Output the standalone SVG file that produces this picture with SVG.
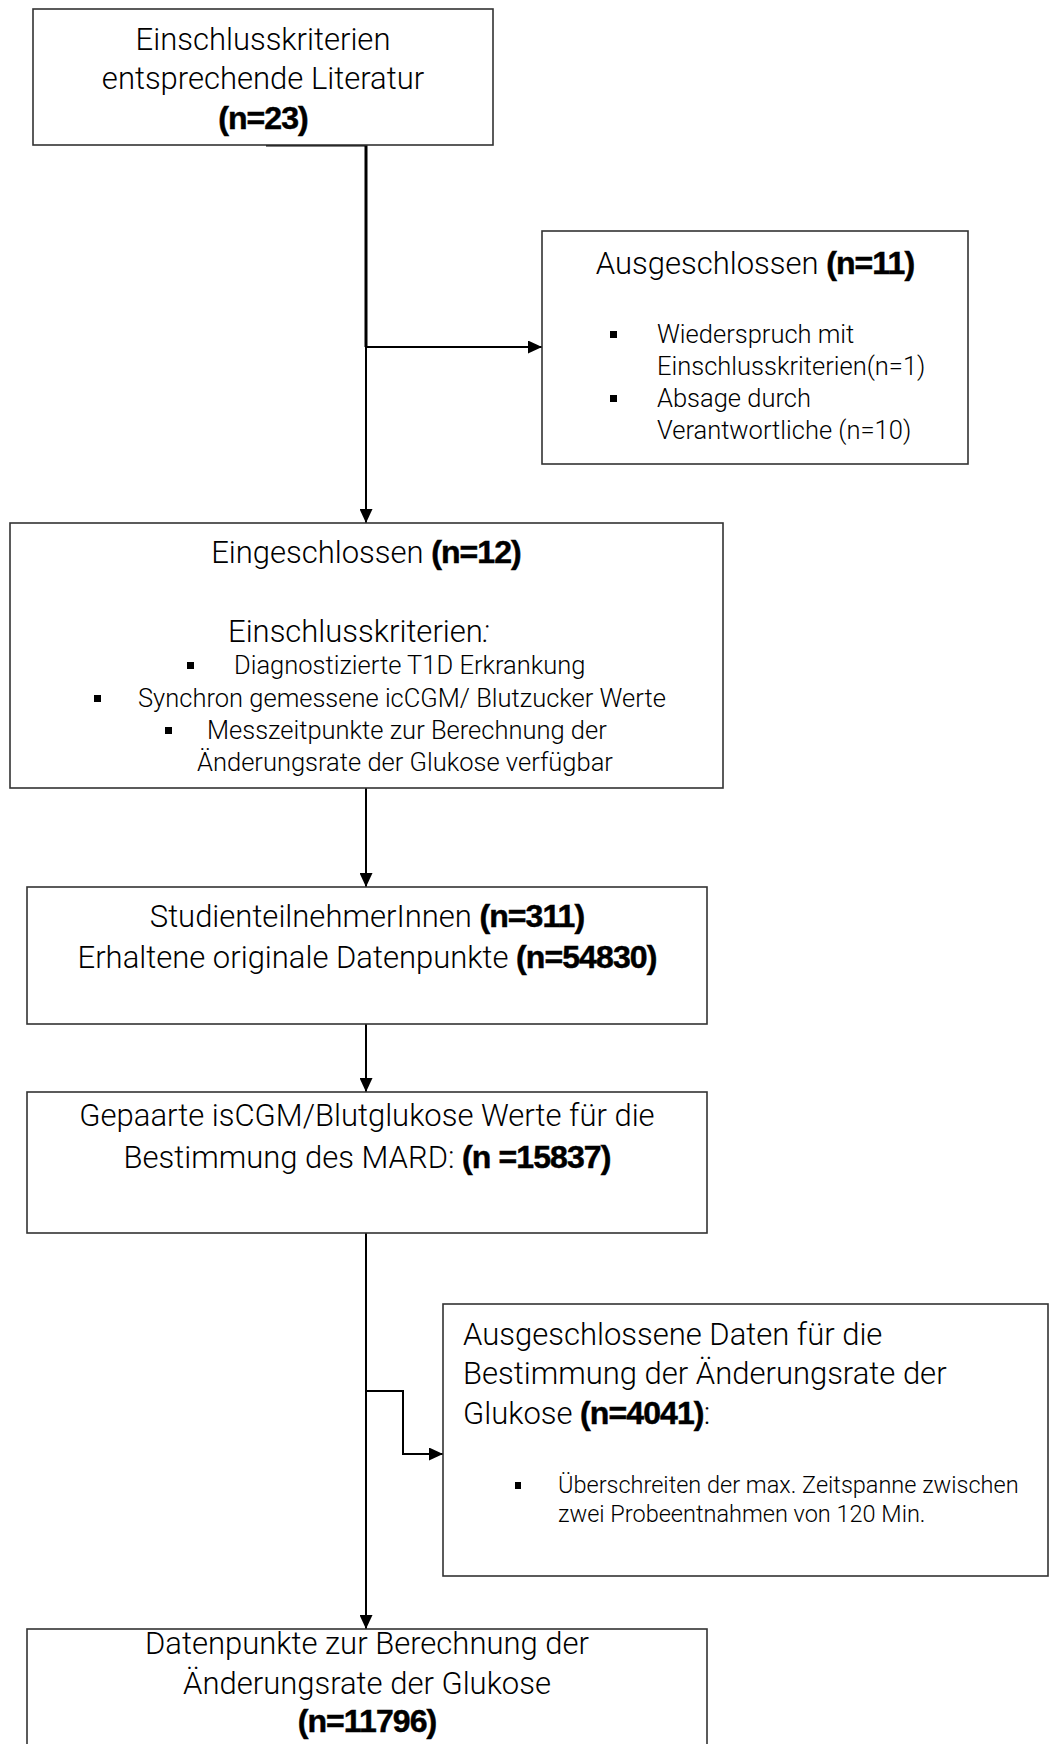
<svg xmlns="http://www.w3.org/2000/svg" width="1057" height="1744" viewBox="0 0 1057 1744">
<style>
.box{fill:#fff;stroke:#333;stroke-width:1.6}
.t{font-family:Roboto,"Liberation Sans",sans-serif;font-weight:300;fill:#000}
.big{font-size:31px}
.med{font-size:25.5px}
.sm{font-size:23.5px}
.b{font-family:"Liberation Sans",Arial,sans-serif;font-weight:bold;font-size:32px;letter-spacing:-0.9px;stroke:#000;stroke-width:0.5}
.c{text-anchor:middle}
.con{fill:none;stroke:#000;stroke-width:2}
.bul{fill:#000}
</style>
<defs>
<marker id="ah" markerUnits="userSpaceOnUse" markerWidth="15" markerHeight="13" refX="14" refY="6.5" orient="auto">
<path d="M0,0 L14,6.5 L0,13 Z" fill="#000"/>
</marker>
</defs>
<rect width="1057" height="1744" fill="#fff"/>
<g id="connectors">
<path class="con" style="stroke-width:3" d="M266,145 H366 V347"/>
<path class="con" d="M366,347 V523" marker-end="url(#ah)"/>
<path class="con" d="M366,347 H542" marker-end="url(#ah)"/>
<path class="con" d="M366,788 V887" marker-end="url(#ah)"/>
<path class="con" d="M366,1024 V1092" marker-end="url(#ah)"/>
<path class="con" d="M366,1233 V1629" marker-end="url(#ah)"/>
<path class="con" d="M366,1391 H403 V1454 H443" marker-end="url(#ah)"/>
</g>
<g id="n1">
<rect class="box" x="33" y="9" width="460" height="136"/>
<text class="t big c" x="263" y="50">Einschlusskriterien</text>
<text class="t big c" x="263" y="89">entsprechende Literatur</text>
<text class="b c" x="263" y="129">(n=23)</text>
</g>
<g id="n2">
<rect class="box" x="542" y="231" width="426" height="233"/>
<text class="t big c" x="755" y="274">Ausgeschlossen <tspan class="b">(n=11)</tspan></text>
<rect class="bul" x="610" y="331" width="7" height="7"/>
<text class="t med" x="657" y="343">Wiederspruch mit</text>
<text class="t med" x="657" y="375">Einschlusskriterien(n=1)</text>
<rect class="bul" x="610" y="395" width="7" height="7"/>
<text class="t med" x="657" y="407">Absage durch</text>
<text class="t med" x="657" y="439">Verantwortliche (n=10)</text>
</g>
<g id="n3">
<rect class="box" x="10" y="523" width="713" height="265"/>
<text class="t big c" x="366" y="563">Eingeschlossen <tspan class="b">(n=12)</tspan></text>
<text class="t big" x="228" y="642">Einschlusskriterien<tspan font-style="italic">:</tspan></text>
<rect class="bul" x="187" y="662" width="7" height="7"/>
<text class="t med" x="234" y="674">Diagnostizierte T1D Erkrankung</text>
<rect class="bul" x="94" y="695" width="7" height="7"/>
<text class="t med" x="138" y="707">Synchron gemessene icCGM/ Blutzucker Werte</text>
<rect class="bul" x="165" y="727" width="7" height="7"/>
<text class="t med" x="207" y="739">Messzeitpunkte zur Berechnung der</text>
<text class="t med" x="197" y="771">Änderungsrate der Glukose verfügbar</text>
</g>
<g id="n4">
<rect class="box" x="27" y="887" width="680" height="137"/>
<text class="t big c" x="367" y="927">StudienteilnehmerInnen <tspan class="b">(n=311)</tspan></text>
<text class="t big c" x="367" y="968">Erhaltene originale Datenpunkte <tspan class="b">(n=54830)</tspan></text>
</g>
<g id="n5">
<rect class="box" x="27" y="1092" width="680" height="141"/>
<text class="t big c" x="367" y="1126">Gepaarte isCGM/Blutglukose Werte für die</text>
<text class="t big c" x="367" y="1168">Bestimmung des MARD: <tspan class="b">(n =15837)</tspan></text>
</g>
<g id="n6">
<rect class="box" x="443" y="1304" width="605" height="272"/>
<text class="t big" x="463" y="1345">Ausgeschlossene Daten für die</text>
<text class="t big" x="463" y="1384">Bestimmung der Änderungsrate der</text>
<text class="t big" x="463" y="1424">Glukose <tspan class="b">(n=4041)</tspan>:</text>
<rect class="bul" x="515" y="1482" width="6" height="7"/>
<text class="t sm" x="558" y="1493">Überschreiten der max. Zeitspanne zwischen</text>
<text class="t sm" x="558" y="1522">zwei Probeentnahmen von 120 Min.</text>
</g>
<g id="n7">
<rect class="box" x="27" y="1629" width="680" height="140"/>
<text class="t big c" x="367" y="1654">Datenpunkte zur Berechnung der</text>
<text class="t big c" x="367" y="1694">Änderungsrate der Glukose</text>
<text class="b c" x="367" y="1732">(n=11796)</text>
</g>
</svg>
